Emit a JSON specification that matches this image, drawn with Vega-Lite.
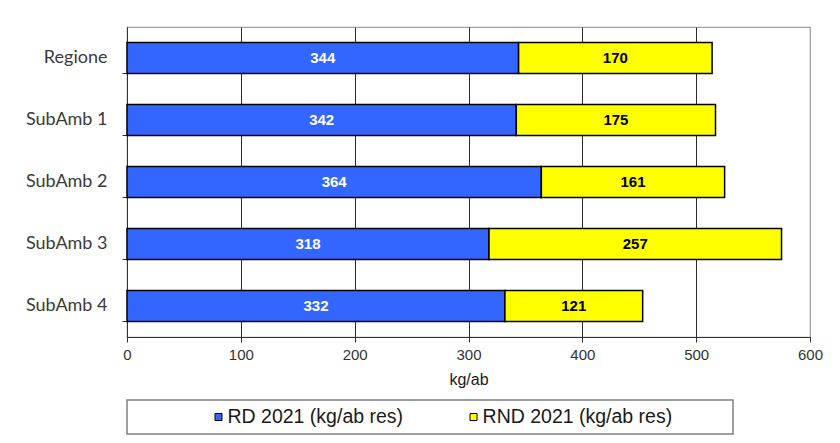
{
  "$schema": "https://vega.github.io/schema/vega-lite/v6.json",
  "autosize": {"type": "pad"},
  "padding": {"left": 24, "top": 26, "right": 5, "bottom": 5},
  "background": "white",
  "datasets": {
    "valori": [
      {"area": "Regione", "serie": "RD 2021 (kg/ab res)", "valore": 344},
      {"area": "Regione", "serie": "RND 2021 (kg/ab res)", "valore": 170},
      {"area": "SubAmb 1", "serie": "RD 2021 (kg/ab res)", "valore": 342},
      {"area": "SubAmb 1", "serie": "RND 2021 (kg/ab res)", "valore": 175},
      {"area": "SubAmb 2", "serie": "RD 2021 (kg/ab res)", "valore": 364},
      {"area": "SubAmb 2", "serie": "RND 2021 (kg/ab res)", "valore": 161},
      {"area": "SubAmb 3", "serie": "RD 2021 (kg/ab res)", "valore": 318},
      {"area": "SubAmb 3", "serie": "RND 2021 (kg/ab res)", "valore": 257},
      {"area": "SubAmb 4", "serie": "RD 2021 (kg/ab res)", "valore": 332},
      {"area": "SubAmb 4", "serie": "RND 2021 (kg/ab res)", "valore": 121}
    ],
    "voci": [
      {"serie": "RD 2021 (kg/ab res)"},
      {"serie": "RND 2021 (kg/ab res)"}
    ]
  },
  "spacing": 63,
  "bounds": "flush",
  "vconcat": [
    {
      "width": 683,
      "height": 310,
      "data": {"name": "valori"},
      "view": {"stroke": "#a0a0a0", "strokeWidth": 1.2},
      "encoding": {
        "y": {
          "field": "area",
          "type": "nominal",
          "sort": null,
          "scale": {"paddingInner": 0.5, "paddingOuter": 0.25},
          "axis": {
            "title": null,
            "labelFont": "Lato",
            "labelFontSize": 18,
            "labelColor": "#3a3a3a",
            "labelPadding": 15,
            "tickSize": 5,
            "tickColor": "#333333",
            "domainColor": "#333333",
            "bandPosition": 1,
            "minExtent": 100,
            "maxExtent": 100
          }
        }
      },
      "layer": [
        {
          "mark": {"type": "bar", "stroke": "black", "strokeWidth": 1.5},
          "encoding": {
            "x": {
              "field": "valore",
              "type": "quantitative",
              "stack": "zero",
              "scale": {"domain": [0, 600], "nice": false},
              "axis": {
                "values": [0, 100, 200, 300, 400, 500, 600],
                "labelFlush": false,
                "grid": true,
                "gridColor": {"condition": {"test": "datum.value === 600", "value": "#a0a0a0"}, "value": "#2a2a2a"},
                "domainColor": "#333333",
                "tickColor": "#333333",
                "tickSize": 5,
                "labelFont": "Liberation Sans",
                "labelFontSize": 15,
                "labelColor": "#333333",
                "labelPadding": 5,
                "title": "kg/ab",
                "titleFont": "Liberation Sans",
                "titleFontSize": 16,
                "titleFontWeight": "normal",
                "titleColor": "#1a1a1a",
                "titlePadding": 9
              }
            },
            "color": {
              "field": "serie",
              "type": "nominal",
              "scale": {
                "domain": ["RD 2021 (kg/ab res)", "RND 2021 (kg/ab res)"],
                "range": ["#3366ff", "#ffff00"]
              },
              "legend": null
            },
            "order": {"field": "serie", "sort": "ascending"}
          }
        },
        {
          "mark": {"type": "text", "font": "Liberation Sans", "fontWeight": "bold", "fontSize": 15},
          "encoding": {
            "x": {"field": "valore", "type": "quantitative", "stack": "zero", "bandPosition": 0.5},
            "detail": {"field": "serie"},
            "order": {"field": "serie", "sort": "ascending"},
            "text": {"field": "valore", "type": "quantitative"},
            "color": {
              "condition": {"test": "datum.serie === 'RD 2021 (kg/ab res)'", "value": "white"},
              "value": "black"
            }
          }
        }
      ]
    },
    {
      "width": 606,
      "height": 34,
      "data": {"name": "voci"},
      "view": {"stroke": "#808080", "strokeWidth": 1.5},
      "encoding": {
        "x": {
          "field": "serie",
          "type": "nominal",
          "sort": null,
          "scale": {"type": "point", "padding": 0.688, "align": 0.2607},
          "axis": null
        }
      },
      "layer": [
        {
          "mark": {"type": "point", "shape": "square", "filled": true, "size": 49, "stroke": "black", "strokeWidth": 1, "opacity": 1},
          "encoding": {
            "color": {"field": "serie", "type": "nominal", "legend": null}
          }
        },
        {
          "mark": {"type": "text", "align": "left", "dx": 9, "font": "Liberation Sans", "fontSize": 19.5, "color": "#1a1a1a"},
          "encoding": {
            "text": {"field": "serie", "type": "nominal"}
          }
        }
      ]
    }
  ],
  "config": {
    "font": "Liberation Sans"
  }
}
